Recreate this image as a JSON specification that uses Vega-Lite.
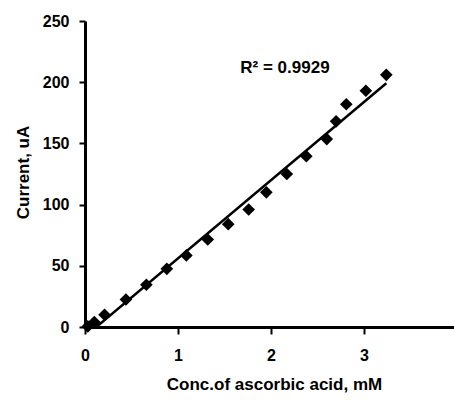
{
  "$schema": "https://vega.github.io/schema/vega-lite/v6.json",
  "autosize": "none",
  "padding": {"left": 85, "top": 21, "right": 0, "bottom": 73},
  "width": 369,
  "height": 306,
  "background": "white",
  "config": {
    "view": {"stroke": null},
    "font": "Liberation Sans",
    "axis": {
      "domainColor": "black",
      "domainWidth": 3,
      "tickColor": "black",
      "tickWidth": 2,
      "grid": false,
      "labelFlush": false,
      "labelFont": "Liberation Sans",
      "labelFontWeight": "bold",
      "labelFontSize": 16,
      "labelColor": "black",
      "titleFont": "Liberation Sans",
      "titleFontWeight": "bold",
      "titleFontSize": 17,
      "titleColor": "black"
    }
  },
  "datasets": {
    "points": [
      {"conc": 0.03, "current": 0.5},
      {"conc": 0.10, "current": 4},
      {"conc": 0.21, "current": 10},
      {"conc": 0.44, "current": 22.5},
      {"conc": 0.66, "current": 34.5},
      {"conc": 0.88, "current": 47.5},
      {"conc": 1.09, "current": 58.5},
      {"conc": 1.32, "current": 71.5},
      {"conc": 1.54, "current": 84},
      {"conc": 1.76, "current": 96},
      {"conc": 1.95, "current": 110},
      {"conc": 2.17, "current": 125},
      {"conc": 2.38, "current": 139.5},
      {"conc": 2.60, "current": 153.5},
      {"conc": 2.70, "current": 168},
      {"conc": 2.81, "current": 182},
      {"conc": 3.02, "current": 193},
      {"conc": 3.24, "current": 206}
    ],
    "note": [
      {"conc": 2.15, "current": 212, "label": "R² = 0.9929"}
    ]
  },
  "layer": [
    {
      "mark": {"type": "rule", "strokeWidth": 3, "color": "black"},
      "encoding": {
        "y": {"datum": 250, "type": "quantitative"}
      }
    },
    {
      "data": {"name": "points"},
      "transform": [{"regression": "current", "on": "conc"}],
      "mark": {"type": "line", "color": "black", "strokeWidth": 2.5, "clip": true},
      "encoding": {
        "x": {"field": "conc", "type": "quantitative"},
        "y": {"field": "current", "type": "quantitative"}
      }
    },
    {
      "data": {"name": "points"},
      "mark": {"type": "point", "shape": "diamond", "filled": true, "color": "black", "size": 160, "opacity": 1},
      "encoding": {
        "x": {
          "field": "conc",
          "type": "quantitative",
          "scale": {"domain": [0, 3.968], "nice": false, "zero": true},
          "axis": {
            "values": [0, 1, 2, 3],
            "format": "d",
            "tickSize": 7,
            "labelPadding": 13,
            "title": "Conc.of ascorbic acid, mM",
            "titleX": 189,
            "titleY": 62,
            "titleBaseline": "alphabetic",
            "titleAlign": "center"
          }
        },
        "y": {
          "field": "current",
          "type": "quantitative",
          "scale": {"domain": [0, 250], "nice": false},
          "axis": {
            "values": [0, 50, 100, 150, 200, 250],
            "tickSize": 6,
            "labelPadding": 10,
            "title": "Current, uA",
            "titleAngle": 270,
            "titleX": -62,
            "titleY": 151,
            "titleBaseline": "middle",
            "titleAlign": "center"
          }
        }
      }
    },
    {
      "data": {"name": "note"},
      "mark": {"type": "text", "font": "Liberation Sans", "fontWeight": "bold", "fontSize": 17, "color": "black", "align": "center", "baseline": "middle"},
      "encoding": {
        "x": {"field": "conc", "type": "quantitative"},
        "y": {"field": "current", "type": "quantitative"},
        "text": {"field": "label"}
      }
    }
  ]
}
